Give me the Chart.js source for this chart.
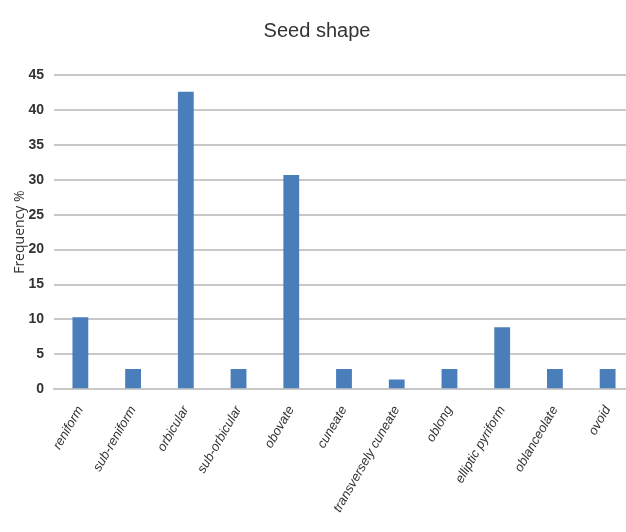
<!DOCTYPE html>
<html>
<head>
<meta charset="utf-8">
<script src="https://cdn.jsdelivr.net/npm/chart.js@4"></script>
<style>
  html, body { margin: 0; padding: 0; background: #fff; overflow: hidden; }
</style>
</head>
<body>
<canvas id="chart" width="634" height="532"></canvas>
<script>
const categories = [
  "reniform", "sub-reniform", "orbicular", "sub-orbicular", "obovate", "cuneate",
  "transversely cuneate", "oblong", "elliptic pyriform", "oblanceolate", "ovoid"
];
const frequency = [10.3, 2.9, 42.6, 2.9, 30.7, 2.9, 1.4, 2.9, 8.9, 2.9, 2.9];
const yTicks = [0, 5, 10, 15, 20, 25, 30, 35, 40, 45];

const narrow = "'Liberation Sans Narrow', 'Liberation Sans', sans-serif";

new Chart(document.getElementById("chart"), {
  type: "bar",
  data: {
    labels: categories,
    datasets: [{
      data: frequency,
      backgroundColor: "#4a7ebb",
      barPercentage: 0.6,
      categoryPercentage: 0.5,
    }],
  },
  options: {
    responsive: false,
    animation: false,
    layout: { padding: { left: 0, right: 0, top: 0, bottom: 11 } },
    plugins: {
      legend: { display: false },
      tooltip: { enabled: false },
      title: {
        display: true,
        text: "Seed shape",
        color: "#333",
        font: { family: narrow, size: 20, weight: "normal" },
        padding: { top: 19, bottom: 32 },
      },
    },
    scales: {
      x: {
        afterFit(axis) {
          axis.paddingLeft = 0;
          axis.paddingRight = 0;
        },
        grid: { display: false },
        border: { color: "#c8c8c8", width: 2 },
        ticks: {
          maxRotation: 60,
          minRotation: 60,
          color: "#333",
          padding: 6,
          font: { family: "'Liberation Sans', sans-serif", size: 13, style: "italic" },
        },
      },
      y: {
        min: 0,
        max: 45,
        afterBuildTicks(axis) {
          axis.ticks = yTicks.map((v) => ({ value: v }));
        },
        afterFit(axis) {
          axis.width = 54;
        },
        grid: { color: "#c8c8c8", lineWidth: 2, drawTicks: false },
        border: { display: false },
        ticks: {
          color: "#333",
          padding: 10,
          font: { family: narrow, size: 14, weight: "bold" },
        },
        title: {
          display: true,
          text: "Frequency %",
          color: "#333",
          padding: { top: 12, bottom: 2 },
          font: { family: "'Open Sans', sans-serif", size: 14 },
        },
      },
    },
  },
});
</script>
</body>
</html>
